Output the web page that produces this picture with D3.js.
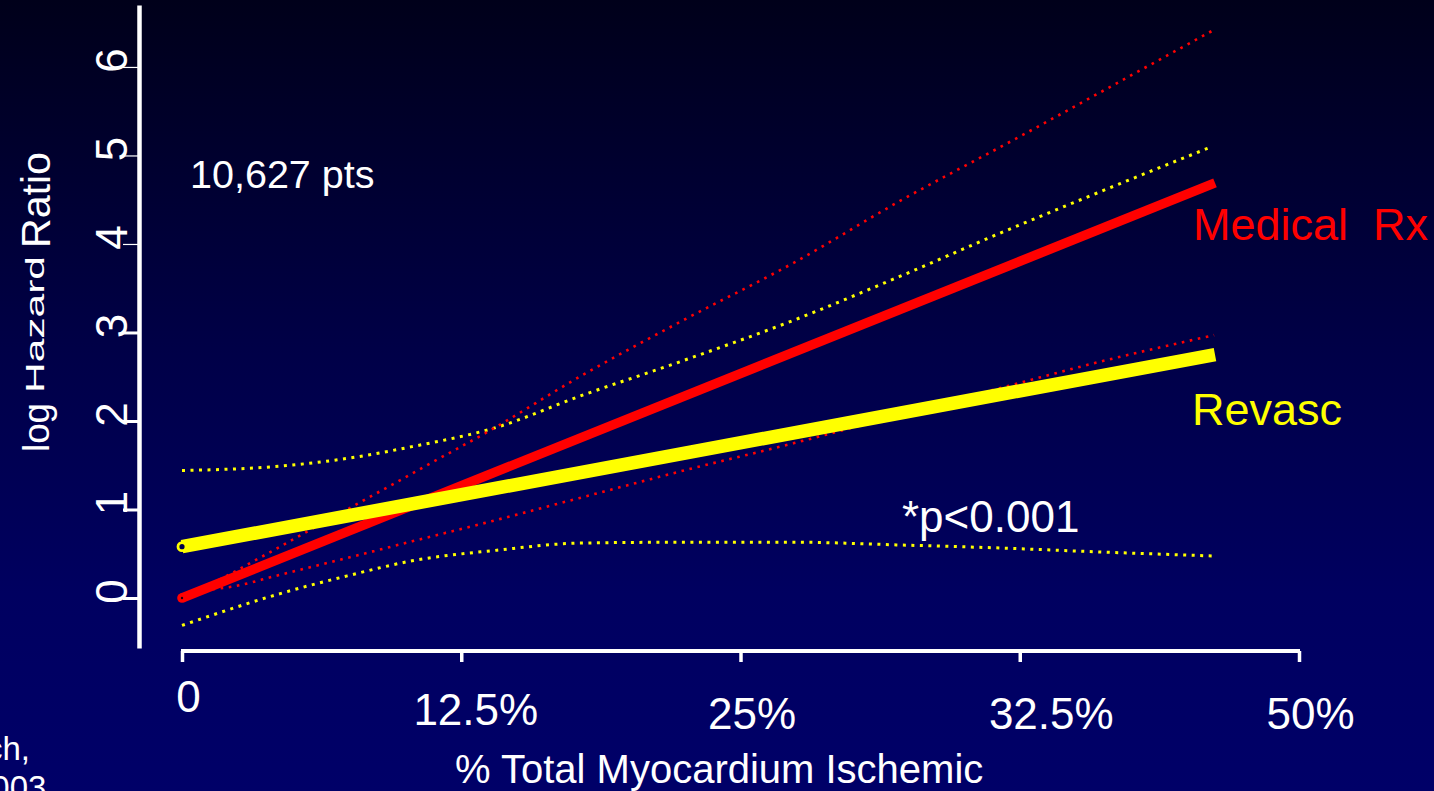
<!DOCTYPE html>
<html>
<head>
<meta charset="utf-8">
<script src="https://cdn.jsdelivr.net/npm/d3@7"></script>
<style>
  html, body { margin: 0; padding: 0; background: #000040; overflow: hidden; }
  svg { display: block; font-family: "Liberation Sans", Arial, Helvetica, sans-serif; }
</style>
</head>
<body>
<svg id="chart" width="1434" height="791"></svg>
<script>
// ---------------- DATA ----------------
const xTickValues = [0, 12.5, 25, 37.5, 50];
const xTickLabels = ["0", "12.5%", "25%", "32.5%", "50%"];
const yTickValues = [0, 1, 2, 3, 4, 5, 6];

// Medical Rx (red) fitted line
const medX = [0, 46.24];
const medY = [0, 4.69];
// Medical Rx confidence bounds
const medUpperX = [1.0, 2.0, 3.6, 5.6, 8.9, 11.4, 13.7, 17.8, 22.3, 27.4, 32.1, 37.4, 43.6, 46.2];
const medUpperY = [0.12, 0.25, 0.47, 0.75, 1.21, 1.56, 1.88, 2.50, 3.12, 3.79, 4.48, 5.20, 6.06, 6.42];
const medLowerX = [1.0, 2.3, 4.2, 7.2, 10.3, 13.9, 17.8, 22.3, 27.4, 32.0, 36.6, 41.1, 46.2];
const medLowerY = [0.09, 0.13, 0.25, 0.44, 0.64, 0.87, 1.13, 1.43, 1.75, 2.06, 2.37, 2.67, 2.97];

// Revasc (yellow) fitted line
const revX = [0, 46.24];
const revY = [0.58, 2.75];
// Revasc confidence bounds
const revUpperX = [0, 4.4, 7.2, 10.3, 14.1, 17.8, 22.3, 27.4, 32.1, 36.6, 41.1, 46.1];
const revUpperY = [1.44, 1.49, 1.57, 1.71, 1.93, 2.28, 2.67, 3.14, 3.63, 4.12, 4.59, 5.10];
const revLowerX = [0, 4.4, 7.4, 10.3, 14.1, 17.8, 22.3, 27.5, 32.0, 36.6, 41.1, 46.1];
const revLowerY = [-0.31, 0.05, 0.25, 0.42, 0.54, 0.62, 0.63, 0.63, 0.60, 0.565, 0.52, 0.475];

const xTitle = "% Total Myocardium Ischemic";
const yTitleParts = ["log", "Hazard", "Ratio"];
const nText = "10,627 pts";
const pText = "*p<0.001";
const medLabel = "Medical\u00A0\u00A0Rx";
const revLabel = "Revasc";
const citeLines = ["ch,", "2003"];

// ---------------- DRAW ----------------
const W = 1434, H = 791;
const svg = d3.select("#chart");
const RED = "#ff0000", YEL = "#ffff00", WHITE = "#ffffff";

const defs = svg.append("defs");
const grad = defs.append("linearGradient").attr("id", "bg").attr("x1", 0).attr("y1", 0).attr("x2", 0).attr("y2", 1);
grad.append("stop").attr("offset", "0%").attr("stop-color", "#00001a");
grad.append("stop").attr("offset", "45%").attr("stop-color", "#000048");
grad.append("stop").attr("offset", "75%").attr("stop-color", "#000060");
grad.append("stop").attr("offset", "100%").attr("stop-color", "#000068");
svg.append("rect").attr("width", W).attr("height", H).attr("fill", "url(#bg)");

const x = d3.scaleLinear().domain([0, 50]).range([182, 1299]);
const y = d3.scaleLinear().domain([-0.565, 6.7]).range([648, 5]);

// Y axis
const yAxisG = svg.append("g").attr("transform", "translate(139,0)")
  .call(d3.axisLeft(y).tickValues(yTickValues).tickSize(16).tickSizeOuter(0).tickFormat(d3.format("d")));
yAxisG.select(".domain").attr("stroke", WHITE).attr("stroke-width", 4.5);
yAxisG.selectAll(".tick line").attr("stroke", WHITE).attr("stroke-width", d => d >= 4 ? 1.2 : 3);
yAxisG.selectAll(".tick text")
  .attr("fill", WHITE).attr("font-size", 44).attr("font-family", null)
  .attr("text-anchor", "middle").attr("transform", "rotate(-90)")
  .attr("x", 7).attr("y", -12).attr("dy", 0);

// X axis
const xLabelShift = [6, 14, 11, 31, 11];
const xLabelBase = [712, 725, 729, 729, 729];
const xAxisG = svg.append("g").attr("transform", "translate(0,651)")
  .call(d3.axisBottom(x).tickValues(xTickValues).tickSize(11).tickSizeOuter(0)
    .tickFormat((d, i) => xTickLabels[i]));
xAxisG.select(".domain").attr("stroke", WHITE).attr("stroke-width", 4).attr("d", `M${x(0) - 1},0H${x(50) + 1}`);
xAxisG.selectAll(".tick line").attr("stroke", WHITE).attr("stroke-width", 3.5);
xAxisG.selectAll(".tick text")
  .attr("fill", WHITE).attr("font-size", 44).attr("font-family", null)
  .attr("text-anchor", "middle")
  .attr("x", (d, i) => xLabelShift[i]).attr("y", (d, i) => xLabelBase[i] - 651).attr("dy", 0);

// Titles
svg.append("text").attr("x", 455).attr("y", 783).attr("fill", WHITE).attr("font-size", 40).text(xTitle);

const yt = [
  {t: yTitleParts[0], start: 452, base: 49, fs: 37, len: 49},
  {t: yTitleParts[1], start: 393, base: 44, fs: 26, len: 137},
  {t: yTitleParts[2], start: 248, base: 50, fs: 40, len: 96}
];
yt.forEach(p => {
  svg.append("text").attr("transform", `translate(${p.base},${p.start}) rotate(-90)`)
    .attr("fill", WHITE).attr("font-size", p.fs)
    .attr("textLength", p.len).attr("lengthAdjust", "spacingAndGlyphs").text(p.t);
});

// Confidence bounds (dotted)
const line = d3.line().x(d => x(d[0])).y(d => y(d[1])).curve(d3.curveMonotoneX);
const zip = (a, b) => a.map((v, i) => [v, b[i]]);

const dotted = [
  {xs: revUpperX, ys: revUpperY, c: YEL, w: 3, dash: "3,5.5"},
  {xs: revLowerX, ys: revLowerY, c: YEL, w: 3, dash: "3,5.5"},
  {xs: medUpperX, ys: medUpperY, c: RED, w: 2.6, dash: "2.6,5.6"},
  {xs: medLowerX, ys: medLowerY, c: RED, w: 2.6, dash: "2.6,5.6"}
];
dotted.forEach(s => {
  svg.append("path").attr("d", line(zip(s.xs, s.ys))).attr("fill", "none")
    .attr("stroke", s.c).attr("stroke-width", s.w).attr("stroke-dasharray", s.dash);
});

// Fitted lines
const straight = d3.line().x(d => x(d[0])).y(d => y(d[1]));
svg.append("path").attr("d", straight(zip(medX, medY))).attr("fill", "none")
  .attr("stroke", RED).attr("stroke-width", 9.5).attr("stroke-linecap", "butt");
svg.append("circle").attr("cx", x(medX[0])).attr("cy", y(medY[0])).attr("r", 4.8).attr("fill", RED);
svg.append("circle").attr("cx", x(medX[0])).attr("cy", y(medY[0])).attr("r", 1.2).attr("fill", "#200010");

svg.append("path").attr("d", straight(zip(revX, revY))).attr("fill", "none")
  .attr("stroke", YEL).attr("stroke-width", 13.5).attr("stroke-linecap", "butt");
svg.append("circle").attr("cx", x(revX[0])).attr("cy", y(revY[0])).attr("r", 4)
  .attr("fill", "#00004a").attr("stroke", YEL).attr("stroke-width", 2.8);

// Annotations
svg.append("text").attr("x", 190).attr("y", 188).attr("fill", WHITE).attr("font-size", 39.5).text(nText);
svg.append("text").attr("x", 902).attr("y", 532).attr("fill", WHITE).attr("font-size", 44).text(pText);
svg.append("text").attr("x", 1193).attr("y", 240).attr("fill", RED).attr("font-size", 45).text(medLabel);
svg.append("text").attr("x", 1192).attr("y", 425).attr("fill", YEL).attr("font-size", 45).text(revLabel);

// Citation text, cut off at the left edge as in the source slide
svg.append("text").attr("x", -14).attr("y", 760).attr("fill", WHITE).attr("font-size", 33).text(citeLines[0]);
svg.append("text").attr("x", -27).attr("y", 799).attr("fill", WHITE).attr("font-size", 33).text(citeLines[1]);
</script>
</body>
</html>
